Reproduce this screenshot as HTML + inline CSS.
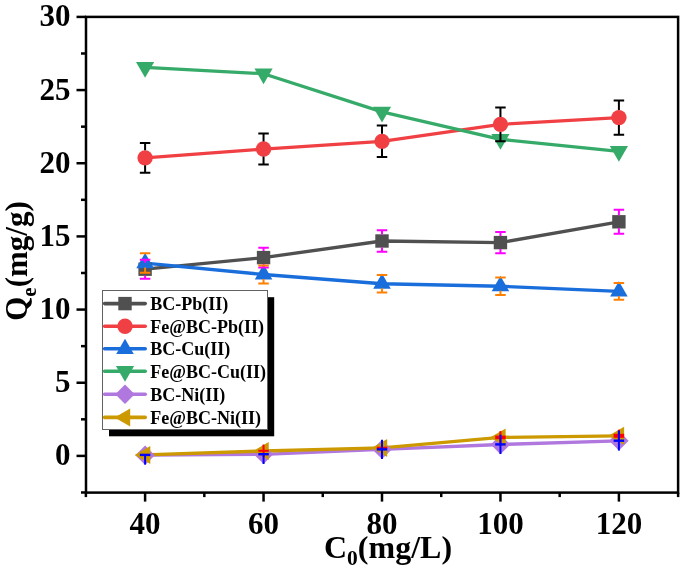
<!DOCTYPE html>
<html><head><meta charset="utf-8"><style>
html,body{margin:0;padding:0;background:#fff;}
svg{display:block;will-change:transform;}
text{font-family:"Liberation Serif",serif;font-weight:bold;fill:#000;}
.tl{font-size:31px;}
.at{font-size:31px;}
.atx{font-size:32px;}
.atx .sub{font-size:21.5px;}
.sub{font-size:21px;}
.lg{font-size:18px;}
</style></head><body>
<svg width="685" height="572" viewBox="0 0 685 572">
<rect width="685" height="572" fill="#fff"/>
<rect x="86.0" y="16.9" width="592.1" height="475.70000000000005" fill="none" stroke="#000" stroke-width="2.5"/>
<line x1="81.00" y1="492.48" x2="86.0" y2="492.48" stroke="#000" stroke-width="2.5"/>
<line x1="76.50" y1="455.90" x2="86.0" y2="455.90" stroke="#000" stroke-width="2.5"/>
<line x1="81.00" y1="419.32" x2="86.0" y2="419.32" stroke="#000" stroke-width="2.5"/>
<line x1="76.50" y1="382.74" x2="86.0" y2="382.74" stroke="#000" stroke-width="2.5"/>
<line x1="81.00" y1="346.15" x2="86.0" y2="346.15" stroke="#000" stroke-width="2.5"/>
<line x1="76.50" y1="309.57" x2="86.0" y2="309.57" stroke="#000" stroke-width="2.5"/>
<line x1="81.00" y1="272.99" x2="86.0" y2="272.99" stroke="#000" stroke-width="2.5"/>
<line x1="76.50" y1="236.41" x2="86.0" y2="236.41" stroke="#000" stroke-width="2.5"/>
<line x1="81.00" y1="199.82" x2="86.0" y2="199.82" stroke="#000" stroke-width="2.5"/>
<line x1="76.50" y1="163.24" x2="86.0" y2="163.24" stroke="#000" stroke-width="2.5"/>
<line x1="81.00" y1="126.66" x2="86.0" y2="126.66" stroke="#000" stroke-width="2.5"/>
<line x1="76.50" y1="90.07" x2="86.0" y2="90.07" stroke="#000" stroke-width="2.5"/>
<line x1="81.00" y1="53.49" x2="86.0" y2="53.49" stroke="#000" stroke-width="2.5"/>
<line x1="76.50" y1="16.91" x2="86.0" y2="16.91" stroke="#000" stroke-width="2.5"/>
<line x1="85.88" y1="492.6" x2="85.88" y2="497.10" stroke="#000" stroke-width="2.5"/>
<line x1="145.10" y1="492.6" x2="145.10" y2="501.60" stroke="#000" stroke-width="2.5"/>
<line x1="204.32" y1="492.6" x2="204.32" y2="497.10" stroke="#000" stroke-width="2.5"/>
<line x1="263.55" y1="492.6" x2="263.55" y2="501.60" stroke="#000" stroke-width="2.5"/>
<line x1="322.77" y1="492.6" x2="322.77" y2="497.10" stroke="#000" stroke-width="2.5"/>
<line x1="382.00" y1="492.6" x2="382.00" y2="501.60" stroke="#000" stroke-width="2.5"/>
<line x1="441.23" y1="492.6" x2="441.23" y2="497.10" stroke="#000" stroke-width="2.5"/>
<line x1="500.45" y1="492.6" x2="500.45" y2="501.60" stroke="#000" stroke-width="2.5"/>
<line x1="559.68" y1="492.6" x2="559.68" y2="497.10" stroke="#000" stroke-width="2.5"/>
<line x1="618.90" y1="492.6" x2="618.90" y2="501.60" stroke="#000" stroke-width="2.5"/>
<line x1="678.12" y1="492.6" x2="678.12" y2="497.10" stroke="#000" stroke-width="2.5"/>
<text x="70.5" y="465.40" text-anchor="end" class="tl">0</text>
<text x="70.5" y="392.24" text-anchor="end" class="tl">5</text>
<text x="70.5" y="319.07" text-anchor="end" class="tl">10</text>
<text x="70.5" y="245.91" text-anchor="end" class="tl">15</text>
<text x="70.5" y="172.74" text-anchor="end" class="tl">20</text>
<text x="70.5" y="99.57" text-anchor="end" class="tl">25</text>
<text x="70.5" y="26.41" text-anchor="end" class="tl">30</text>
<text x="145.10" y="533.5" text-anchor="middle" class="tl">40</text>
<text x="263.55" y="533.5" text-anchor="middle" class="tl">60</text>
<text x="382.00" y="533.5" text-anchor="middle" class="tl">80</text>
<text x="500.45" y="533.5" text-anchor="middle" class="tl">100</text>
<text x="618.90" y="533.5" text-anchor="middle" class="tl">120</text>
<text x="388" y="557.5" text-anchor="middle" class="at atx">C<tspan class="sub" dy="7">0</tspan><tspan dy="-7">(mg/L)</tspan></text>
<text transform="translate(27.1,261) rotate(-90)" text-anchor="middle" class="at">Q<tspan class="sub" dy="9">e</tspan><tspan dy="-9">(mg/g)</tspan></text>
<polyline points="145.10,269.20 263.55,257.60 382.00,241.00 500.45,242.60 618.90,221.80" fill="none" stroke="#505050" stroke-width="3.3" stroke-linejoin="round" stroke-linecap="round"/>
<polyline points="145.10,157.85 263.55,149.05 382.00,141.35 500.45,124.40 618.90,117.60" fill="none" stroke="#f04043" stroke-width="3.3" stroke-linejoin="round" stroke-linecap="round"/>
<polyline points="145.10,263.05 263.55,274.50 382.00,283.75 500.45,286.25 618.90,291.45" fill="none" stroke="#1a6edc" stroke-width="3.3" stroke-linejoin="round" stroke-linecap="round"/>
<polyline points="145.10,67.30 263.55,73.70 382.00,111.90 500.45,139.30 618.90,151.30" fill="none" stroke="#36ab69" stroke-width="3.3" stroke-linejoin="round" stroke-linecap="round"/>
<polyline points="145.10,455.20 263.55,454.30 382.00,449.40 500.45,444.50 618.90,440.80" fill="none" stroke="#b077de" stroke-width="3.3" stroke-linejoin="round" stroke-linecap="round"/>
<polyline points="145.10,454.90 263.55,451.00 382.00,447.90 500.45,437.40 618.90,435.80" fill="none" stroke="#cc9900" stroke-width="3.3" stroke-linejoin="round" stroke-linecap="round"/>
<rect x="138.40" y="262.50" width="13.4" height="13.4" fill="#505050"/>
<rect x="256.85" y="250.90" width="13.4" height="13.4" fill="#505050"/>
<rect x="375.30" y="234.30" width="13.4" height="13.4" fill="#505050"/>
<rect x="493.75" y="235.90" width="13.4" height="13.4" fill="#505050"/>
<rect x="612.20" y="215.10" width="13.4" height="13.4" fill="#505050"/>
<circle cx="145.10" cy="157.85" r="7.7" fill="#f04043"/>
<circle cx="263.55" cy="149.05" r="7.7" fill="#f04043"/>
<circle cx="382.00" cy="141.35" r="7.7" fill="#f04043"/>
<circle cx="500.45" cy="124.40" r="7.7" fill="#f04043"/>
<circle cx="618.90" cy="117.60" r="7.7" fill="#f04043"/>
<polygon points="145.10,252.89 153.90,268.13 136.30,268.13" fill="#1a6edc"/>
<polygon points="263.55,264.34 272.35,279.58 254.75,279.58" fill="#1a6edc"/>
<polygon points="382.00,273.59 390.80,288.83 373.20,288.83" fill="#1a6edc"/>
<polygon points="500.45,276.09 509.25,291.33 491.65,291.33" fill="#1a6edc"/>
<polygon points="618.90,281.29 627.70,296.53 610.10,296.53" fill="#1a6edc"/>
<polygon points="145.10,77.81 154.20,62.05 136.00,62.05" fill="#36ab69"/>
<polygon points="263.55,84.21 272.65,68.45 254.45,68.45" fill="#36ab69"/>
<polygon points="382.00,122.41 391.10,106.65 372.90,106.65" fill="#36ab69"/>
<polygon points="500.45,149.81 509.55,134.05 491.35,134.05" fill="#36ab69"/>
<polygon points="618.90,161.81 628.00,146.05 609.80,146.05" fill="#36ab69"/>
<polygon points="145.10,445.50 154.80,455.20 145.10,464.90 135.40,455.20" fill="#b077de"/>
<polygon points="263.55,444.60 273.25,454.30 263.55,464.00 253.85,454.30" fill="#b077de"/>
<polygon points="382.00,439.70 391.70,449.40 382.00,459.10 372.30,449.40" fill="#b077de"/>
<polygon points="500.45,434.80 510.15,444.50 500.45,454.20 490.75,444.50" fill="#b077de"/>
<polygon points="618.90,431.10 628.60,440.80 618.90,450.50 609.20,440.80" fill="#b077de"/>
<polygon points="134.71,454.90 150.30,445.90 150.30,463.90" fill="#cc9900"/>
<polygon points="253.16,451.00 268.75,442.00 268.75,460.00" fill="#cc9900"/>
<polygon points="371.61,447.90 387.20,438.90 387.20,456.90" fill="#cc9900"/>
<polygon points="490.06,437.40 505.65,428.40 505.65,446.40" fill="#cc9900"/>
<polygon points="608.51,435.80 624.10,426.80 624.10,444.80" fill="#cc9900"/>
<path d="M145.10,259.75V262.70M145.10,275.70V278.65M139.85,259.75h10.5M139.85,278.65h10.5" stroke="#ff00ff" stroke-width="2.0" fill="none" stroke-linecap="butt"/>
<path d="M263.55,247.65V251.10M263.55,264.10V267.55M258.30,247.65h10.5M258.30,267.55h10.5" stroke="#ff00ff" stroke-width="2.0" fill="none" stroke-linecap="butt"/>
<path d="M382.00,230.15V234.50M382.00,247.50V251.85M376.75,230.15h10.5M376.75,251.85h10.5" stroke="#ff00ff" stroke-width="2.0" fill="none" stroke-linecap="butt"/>
<path d="M500.45,232.00V236.10M500.45,249.10V253.20M495.20,232.00h10.5M495.20,253.20h10.5" stroke="#ff00ff" stroke-width="2.0" fill="none" stroke-linecap="butt"/>
<path d="M618.90,209.80V215.30M618.90,228.30V233.80M613.65,209.80h10.5M613.65,233.80h10.5" stroke="#ff00ff" stroke-width="2.0" fill="none" stroke-linecap="butt"/>
<path d="M145.10,142.90V150.35M145.10,165.35V172.80M139.85,142.90h10.5M139.85,172.80h10.5" stroke="#000" stroke-width="2.0" fill="none" stroke-linecap="butt"/>
<path d="M263.55,133.60V141.55M263.55,156.55V164.50M258.30,133.60h10.5M258.30,164.50h10.5" stroke="#000" stroke-width="2.0" fill="none" stroke-linecap="butt"/>
<path d="M382.00,125.60V133.85M382.00,148.85V157.10M376.75,125.60h10.5M376.75,157.10h10.5" stroke="#000" stroke-width="2.0" fill="none" stroke-linecap="butt"/>
<path d="M500.45,107.60V116.90M500.45,131.90V141.20M495.20,107.60h10.5M495.20,141.20h10.5" stroke="#000" stroke-width="2.0" fill="none" stroke-linecap="butt"/>
<path d="M618.90,100.50V110.10M618.90,125.10V134.70M613.65,100.50h10.5M613.65,134.70h10.5" stroke="#000" stroke-width="2.0" fill="none" stroke-linecap="butt"/>
<path d="M145.10,267.55V272.80M139.85,253.30h10.5M139.85,272.80h10.5" stroke="#ff8000" stroke-width="2.0" fill="none" stroke-linecap="butt"/>
<path d="M263.55,279.00V283.40M258.30,265.60h10.5M258.30,283.40h10.5" stroke="#ff8000" stroke-width="2.0" fill="none" stroke-linecap="butt"/>
<path d="M382.00,288.25V292.40M376.75,275.10h10.5M376.75,292.40h10.5" stroke="#ff8000" stroke-width="2.0" fill="none" stroke-linecap="butt"/>
<path d="M500.45,290.75V294.90M495.20,277.60h10.5M495.20,294.90h10.5" stroke="#ff8000" stroke-width="2.0" fill="none" stroke-linecap="butt"/>
<path d="M618.90,295.95V299.80M613.65,283.10h10.5M613.65,299.80h10.5" stroke="#ff8000" stroke-width="2.0" fill="none" stroke-linecap="butt"/>
<line x1="263.55" y1="444.60" x2="263.55" y2="457.00" stroke="#ff0000" stroke-width="2.0"/>
<line x1="258.30" y1="450.80" x2="268.80" y2="450.80" stroke="#ff0000" stroke-width="2.0"/>
<line x1="382.00" y1="441.50" x2="382.00" y2="454.10" stroke="#ff0000" stroke-width="2.0"/>
<line x1="376.75" y1="447.80" x2="387.25" y2="447.80" stroke="#ff0000" stroke-width="2.2"/>
<line x1="500.45" y1="431.10" x2="500.45" y2="443.70" stroke="#ff0000" stroke-width="2.0"/>
<line x1="495.20" y1="437.40" x2="505.70" y2="437.40" stroke="#ff0000" stroke-width="3.6"/>
<line x1="618.90" y1="429.70" x2="618.90" y2="441.90" stroke="#ff0000" stroke-width="2.0"/>
<line x1="613.65" y1="435.80" x2="624.15" y2="435.80" stroke="#ff0000" stroke-width="4.0"/>
<line x1="145.10" y1="454.90" x2="145.10" y2="464.60" stroke="#0000ff" stroke-width="2.0"/>
<line x1="139.85" y1="454.90" x2="150.35" y2="454.90" stroke="#0000ff" stroke-width="2.4"/>
<line x1="263.55" y1="454.20" x2="263.55" y2="464.00" stroke="#0000ff" stroke-width="2.0"/>
<line x1="258.30" y1="454.20" x2="268.80" y2="454.20" stroke="#0000ff" stroke-width="2.4"/>
<line x1="382.00" y1="439.70" x2="382.00" y2="459.00" stroke="#0000ff" stroke-width="2.0"/>
<line x1="376.75" y1="449.40" x2="387.25" y2="449.40" stroke="#0000ff" stroke-width="2.4"/>
<line x1="500.45" y1="434.70" x2="500.45" y2="454.00" stroke="#0000ff" stroke-width="2.0"/>
<line x1="495.20" y1="444.40" x2="505.70" y2="444.40" stroke="#0000ff" stroke-width="2.4"/>
<line x1="618.90" y1="430.60" x2="618.90" y2="450.60" stroke="#0000ff" stroke-width="2.0"/>
<line x1="613.65" y1="440.70" x2="624.15" y2="440.70" stroke="#0000ff" stroke-width="2.4"/>
<rect x="109" y="297.2" width="165.2" height="139.1" fill="#000"/>
<rect x="102.5" y="290.5" width="165" height="139" fill="#fff" stroke="#626262" stroke-width="1"/>
<line x1="104.6" y1="303.6" x2="145.2" y2="303.6" stroke="#505050" stroke-width="3.6" stroke-linecap="round"/>
<rect x="118.30" y="296.90" width="13.4" height="13.4" fill="#505050"/>
<text x="150.2" y="310.10" class="lg">BC-Pb(II)</text>
<line x1="104.6" y1="326.2" x2="145.2" y2="326.2" stroke="#f04043" stroke-width="3.6" stroke-linecap="round"/>
<circle cx="125.00" cy="326.20" r="7.7" fill="#f04043"/>
<text x="150.2" y="332.70" class="lg">Fe@BC-Pb(II)</text>
<line x1="104.6" y1="348.8" x2="145.2" y2="348.8" stroke="#1a6edc" stroke-width="3.6" stroke-linecap="round"/>
<polygon points="125.00,338.64 133.80,353.88 116.20,353.88" fill="#1a6edc"/>
<text x="150.2" y="355.30" class="lg">BC-Cu(II)</text>
<line x1="104.6" y1="371.3" x2="145.2" y2="371.3" stroke="#36ab69" stroke-width="3.6" stroke-linecap="round"/>
<polygon points="125.00,381.81 134.10,366.05 115.90,366.05" fill="#36ab69"/>
<text x="150.2" y="377.80" class="lg">Fe@BC-Cu(II)</text>
<line x1="104.6" y1="394.2" x2="145.2" y2="394.2" stroke="#b077de" stroke-width="3.6" stroke-linecap="round"/>
<polygon points="125.00,384.50 134.70,394.20 125.00,403.90 115.30,394.20" fill="#b077de"/>
<text x="150.2" y="400.70" class="lg">BC-Ni(II)</text>
<line x1="104.6" y1="417.4" x2="145.2" y2="417.4" stroke="#cc9900" stroke-width="3.6" stroke-linecap="round"/>
<polygon points="114.61,417.40 130.20,408.40 130.20,426.40" fill="#cc9900"/>
<text x="150.2" y="423.90" class="lg">Fe@BC-Ni(II)</text>
</svg>
</body></html>
